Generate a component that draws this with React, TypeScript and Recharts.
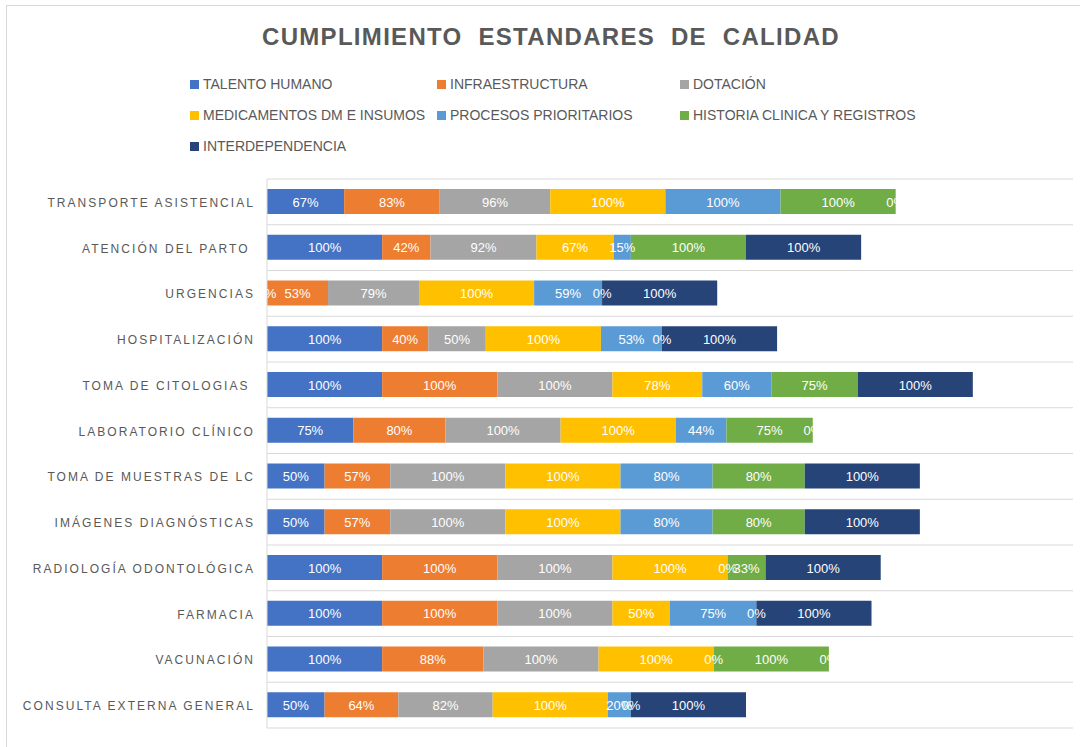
import { Bar, BarChart, CartesianGrid, XAxis, YAxis } from 'recharts';

const categories = [
  'TRANSPORTE ASISTENCIAL',
  'ATENCIÓN DEL PARTO ',
  'URGENCIAS',
  'HOSPITALIZACIÓN',
  'TOMA DE CITOLOGIAS ',
  'LABORATORIO CLÍNICO',
  'TOMA DE MUESTRAS DE LC',
  'IMÁGENES DIAGNÓSTICAS',
  'RADIOLOGÍA ODONTOLÓGICA',
  'FARMACIA',
  'VACUNACIÓN',
  'CONSULTA EXTERNA GENERAL',
];

const talentoHumano = [67, 100, 0, 100, 100, 75, 50, 50, 100, 100, 100, 50];
const infraestructura = [83, 42, 53, 40, 100, 80, 57, 57, 100, 100, 88, 64];
const dotacion = [96, 92, 79, 50, 100, 100, 100, 100, 100, 100, 100, 82];
const medicamentos = [100, 67, 100, 100, 78, 100, 100, 100, 100, 50, 100, 100];
const procesos = [100, 15, 59, 53, 60, 44, 80, 80, 0, 75, 0, 20];
const historia = [100, 100, 0, 0, 75, 75, 80, 80, 33, 0, 100, 0];
const interdependencia = [0, 100, 100, 100, 100, 0, 100, 100, 100, 100, 0, 100];

const series = [
  { key: 'th', name: 'TALENTO HUMANO', color: '#4472C4', values: talentoHumano },
  { key: 'inf', name: 'INFRAESTRUCTURA', color: '#ED7D31', values: infraestructura },
  { key: 'dot', name: 'DOTACIÓN', color: '#A5A5A5', values: dotacion },
  { key: 'med', name: 'MEDICAMENTOS DM E INSUMOS', color: '#FFC000', values: medicamentos },
  { key: 'pro', name: 'PROCESOS PRIORITARIOS', color: '#5B9BD5', values: procesos },
  { key: 'his', name: 'HISTORIA CLINICA Y REGISTROS', color: '#70AD47', values: historia },
  { key: 'int', name: 'INTERDEPENDENCIA', color: '#264478', values: interdependencia },
];

const data = categories.map((name, i) => {
  const row: Record<string, string | number> = { name };
  series.forEach((s) => {
    row[s.key] = s.values[i];
  });
  return row;
});

const FONT = "'Liberation Sans Narrow', 'Liberation Sans', Arial, sans-serif";

// posiciones de la leyenda (3 columnas como en Excel)
const legendCols = [190, 437, 680];
const legendRows = [84, 115, 146];

const CHART_MARGIN = { top: 179, right: 7, bottom: 19, left: 0 };

function CategoryTick({ x, y, payload }: any) {
  return (
    <text
      x={x}
      y={y}
      dy={5}
      textAnchor="end"
      fill="#595959"
      fontSize={12}
      fontFamily={FONT}
      letterSpacing={2.05}
      style={{ whiteSpace: 'pre' }}
    >
      {payload.value}
    </text>
  );
}

// etiqueta blanca centrada (se dibuja en una capa encima, también los 0%)
function LabelShape(props: any) {
  const { x, y, width, height, value } = props;
  const v = Array.isArray(value) ? value[1] - value[0] : value;
  return (
    <text
      x={Number(x) + Number(width) / 2}
      y={Number(y) + Number(height) / 2}
      dy={5}
      textAnchor="middle"
      fill="#ffffff"
      fontSize={13}
      fontFamily={FONT}
    >
      {`${Math.round(v)}%`}
    </text>
  );
}

function ChartBase({ labels }: { labels: boolean }) {
  return (
    <BarChart width={1080} height={747} data={data} layout="vertical" margin={CHART_MARGIN} barSize={25}>
      {!labels && (
        <CartesianGrid
          vertical={false}
          stroke="#d9d9d9"
          horizontalCoordinatesGenerator={({ offset }: any) =>
            categories
              .map((_, i) => offset.top + (i * offset.height) / categories.length)
              .concat(offset.top + offset.height)
          }
        />
      )}
      <XAxis type="number" domain={[0, 700]} hide />
      <YAxis
        type="category"
        dataKey="name"
        width={267}
        tick={labels ? false : <CategoryTick />}
        tickLine={false}
        tickSize={0}
        tickMargin={12}
        axisLine={labels ? false : { stroke: '#d9d9d9' }}
        interval={0}
      />
      {series.map((s) =>
        labels ? (
          <Bar
            key={s.key}
            dataKey={s.key}
            stackId="a"
            fill="none"
            isAnimationActive={false}
            shape={<LabelShape />}
          />
        ) : (
          <Bar key={s.key} dataKey={s.key} name={s.name} stackId="a" fill={s.color} isAnimationActive={false} />
        )
      )}
    </BarChart>
  );
}

export default function App() {
  return (
    <div
      style={{
        position: 'absolute',
        left: 0,
        top: 0,
        width: 1080,
        height: 747,
        background: '#fff',
        fontFamily: FONT,
        overflow: 'hidden',
      }}
    >
      <div
        style={{
          position: 'absolute',
          left: 6,
          top: 5,
          width: 1090,
          height: 760,
          border: '1px solid #d9d9d9',
        }}
      />
      <div
        style={{
          position: 'absolute',
          top: 23,
          left: 0,
          width: 1102,
          textAlign: 'center',
          fontSize: 24,
          fontWeight: 'bold',
          color: '#595959',
          letterSpacing: 1.3,
          whiteSpace: 'pre',
        }}
      >
        {'CUMPLIMIENTO  ESTANDARES  DE  CALIDAD'}
      </div>
      {series.map((s, i) => (
        <div
          key={s.key}
          style={{
            position: 'absolute',
            left: legendCols[i % 3],
            top: legendRows[Math.floor(i / 3)] - 9,
            height: 18,
            display: 'flex',
            alignItems: 'center',
            fontSize: 14,
            color: '#595959',
            whiteSpace: 'nowrap',
          }}
        >
          <span
            style={{
              display: 'inline-block',
              width: 9,
              height: 9,
              background: s.color,
              marginRight: 4,
            }}
          />
          {s.name}
        </div>
      ))}
      <div style={{ position: 'absolute', left: 0, top: 0 }}>
        <ChartBase labels={false} />
      </div>
      <div style={{ position: 'absolute', left: 0, top: 0 }}>
        <ChartBase labels />
      </div>
    </div>
  );
}
